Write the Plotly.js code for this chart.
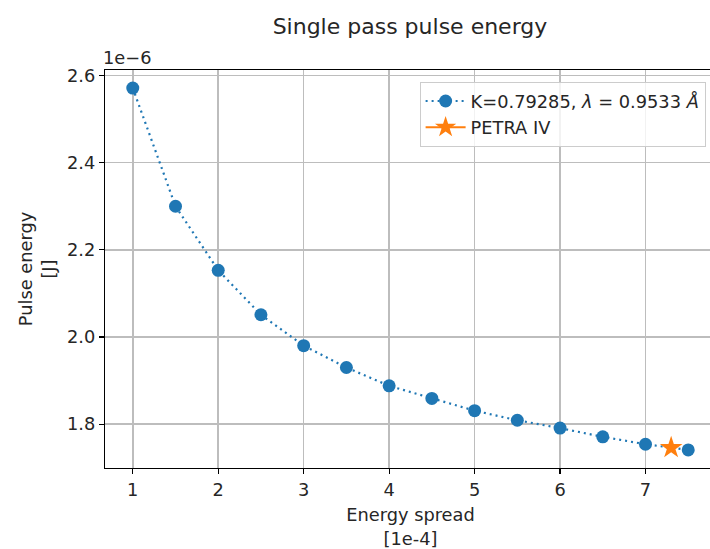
<!DOCTYPE html>
<html>
<head>
<meta charset="utf-8">
<script src="https://cdn.plot.ly/plotly-3.0.1.min.js"></script>
<style>
html, body { margin:0; padding:0; overflow:hidden; background:#fff; }
#chart { width:720px; height:549px; }
</style>
</head>
<body>
<div id="chart"></div>
<script>
// Energy spread [1e-4]
const energySpread = [1, 1.5, 2, 2.5, 3, 3.5, 4, 4.5, 5, 5.5, 6, 6.5, 7, 7.5];
// Pulse energy [1e-6 J]
const pulseEnergy = [2.571, 2.300, 2.153, 2.051, 1.980, 1.930, 1.888, 1.859, 1.831, 1.809, 1.791, 1.771, 1.754, 1.741];
const petraX = [7.3];
const petraY = [1.746];
const seriesName = "K=0.79285, <i>λ</i> = 0.9533 <i>Å</i>";
const petraName = "PETRA IV";
const xTicks = [1, 2, 3, 4, 5, 6, 7];
const yTicks = [1.8, 2.0, 2.2, 2.4, 2.6];

const font = "DejaVu Sans, sans-serif";
const fs = 17.8;

const traces = [
  {
    x: energySpread, y: pulseEnergy, name: seriesName,
    mode: "lines+markers", type: "scatter",
    line: {color: "#1f77b4", dash: "2px,4px", width: 2.2},
    marker: {color: "#1f77b4", size: 13, symbol: "circle"}
  },
  {
    x: petraX, y: petraY, name: petraName,
    mode: "lines+markers", type: "scatter",
    line: {color: "#ff7f0e", width: 2},
    marker: {color: "#ff7f0e", size: 17, symbol: "star"}
  }
];

const axisCommon = {
  showline: true, mirror: true, linecolor: "#000", linewidth: 1.2,
  ticks: "outside", ticklen: 5, tickwidth: 1.2, tickcolor: "#000",
  showgrid: true, gridcolor: "#bdbdbd", gridwidth: 1.5,
  zeroline: false,
  tickfont: {family: font, size: fs, color: "#262626"}
};

const layout = {
  width: 720, height: 549,
  margin: {l: 105, r: 3.5, t: 70, b: 81},
  paper_bgcolor: "#fff", plot_bgcolor: "#fff",
  font: {family: font, color: "#262626"},
  title: {text: "Single pass pulse energy", font: {family: font, size: 22, color: "#262626"},
          x: 0.5694, xanchor: "center", y: 0.953, yanchor: "middle"},
  xaxis: Object.assign({}, axisCommon, {
    range: [0.675, 7.825], tickmode: "array", tickvals: xTicks,
    ticktext: xTicks.map(String),
    title: {text: "Energy spread<br>[1e-4]", font: {family: font, size: fs, color: "#262626"}, standoff: 10}
  }),
  yaxis: Object.assign({}, axisCommon, {
    range: [1.6995, 2.6125], tickmode: "array", tickvals: yTicks,
    ticktext: yTicks.map(v => v.toFixed(1)),
    title: {text: "Pulse energy<br>[J]", font: {family: font, size: fs, color: "#262626"}, standoff: 6}
  }),
  showlegend: true,
  legend: {
    x: 0.983, xanchor: "right", y: 0.97, yanchor: "top",
    bgcolor: "rgba(255,255,255,0.8)", bordercolor: "#cccccc", borderwidth: 1,
    font: {family: font, size: fs, color: "#262626"},
    itemwidth: 40, tracegroupgap: 0
  },
  annotations: [
    {text: "1e−6", xref: "paper", yref: "paper", x: 0, y: 1, xanchor: "left", yanchor: "bottom",
     xshift: -4, yshift: 0, showarrow: false, font: {family: font, size: fs, color: "#262626"}}
  ]
};

Plotly.newPlot("chart", traces, layout, {displayModeBar: false, staticPlot: true});
</script>
</body>
</html>
